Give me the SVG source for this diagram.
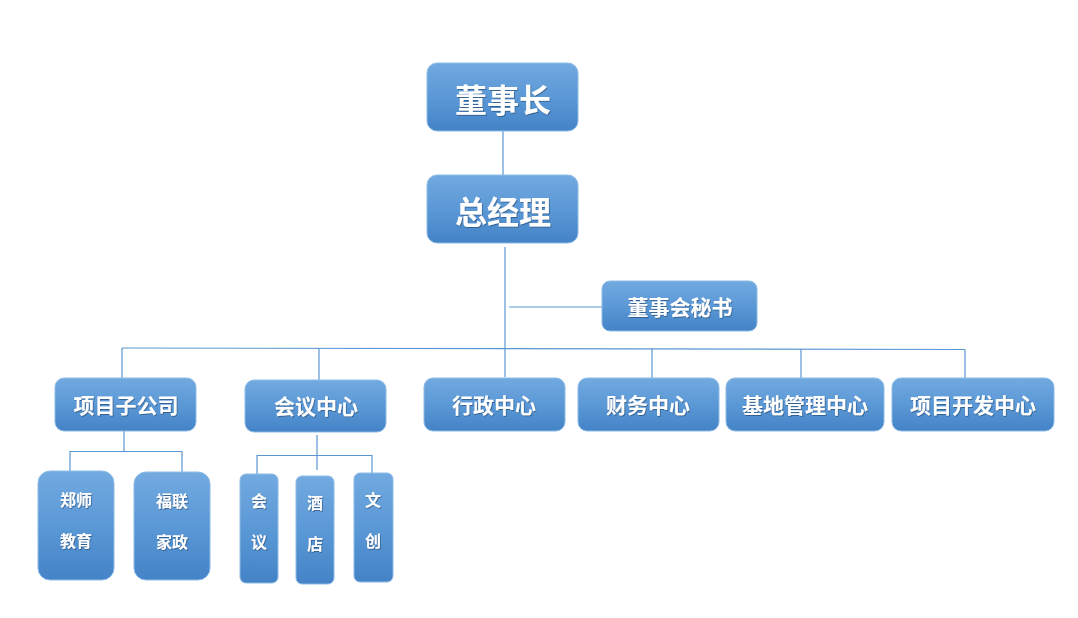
<svg xmlns="http://www.w3.org/2000/svg" width="1078" height="618" viewBox="0 0 1078 618">
<defs>
<linearGradient id="g" x1="0" y1="0" x2="0" y2="1">
<stop offset="0" stop-color="#72aae0"/>
<stop offset="0.5" stop-color="#5b98d6"/>
<stop offset="1" stop-color="#4383c6"/>
</linearGradient>
<filter id="ts" x="-10%" y="-10%" width="120%" height="130%">
<feDropShadow dx="0.8" dy="1" stdDeviation="0.6" flood-color="#1f3f66" flood-opacity="0.6"/>
</filter>
</defs>
<style>
rect{fill:url(#g);stroke:#8fbbe6;stroke-width:1}
text{fill:#ffffff;font-family:"Noto Sans CJK SC","Noto Sans CJK JP",sans-serif;font-weight:bold;text-anchor:middle;dominant-baseline:central;filter:url(#ts)}
.l{font-size:32px}
.m{font-size:21px}
.s{font-size:16px}
#connectors line,#connectors polyline{stroke:#5b97d3;stroke-width:1.2;fill:none}
</style>
<g id="connectors">
<line x1="503" y1="131" x2="503" y2="175"/>
<line x1="505" y1="247" x2="505" y2="377"/>
<line x1="509" y1="307" x2="602" y2="307"/>
<line x1="122" y1="348" x2="965" y2="349.5"/>
<line x1="122" y1="348" x2="122" y2="384"/>
<line x1="319" y1="348" x2="319" y2="380"/>
<line x1="652" y1="349" x2="652" y2="378"/>
<line x1="801" y1="349" x2="801" y2="378"/>
<line x1="965" y1="349.5" x2="965" y2="378"/>
<line x1="124" y1="431" x2="124" y2="451"/>
<polyline points="70,471 70,451.5 182,451.5 182,472"/>
<line x1="317" y1="435" x2="317" y2="470"/>
<polyline points="257,474 257,455.5 372,455.5 372,473"/>
</g>
<g id="n-chairman"><rect x="427" y="63" width="151" height="68" rx="10"/><text class="l" x="503" y="98">董事长</text></g>
<g id="n-gm"><rect x="427" y="175" width="151" height="68" rx="10"/><text class="l" x="503" y="210">总经理</text></g>
<g id="n-secretary"><rect x="602" y="281" width="155" height="50" rx="8"/><text class="m" x="680" y="306">董事会秘书</text></g>
<g id="n-project-sub"><rect x="55" y="378" width="141" height="53" rx="9"/><text class="m" x="126" y="404">项目子公司</text></g>
<g id="n-meeting-center"><rect x="245" y="380" width="141" height="52" rx="9"/><text class="m" x="316" y="405">会议中心</text></g>
<g id="n-admin"><rect x="424" y="378" width="141" height="53" rx="9"/><text class="m" x="494" y="404">行政中心</text></g>
<g id="n-finance"><rect x="578" y="378" width="141" height="53" rx="9"/><text class="m" x="648" y="404">财务中心</text></g>
<g id="n-base"><rect x="726" y="378" width="158" height="53" rx="9"/><text class="m" x="805" y="404">基地管理中心</text></g>
<g id="n-projdev"><rect x="892" y="378" width="162" height="53" rx="9"/><text class="m" x="973" y="404">项目开发中心</text></g>
<g id="n-zhengshi"><rect x="38" y="471" width="76" height="109" rx="12"/><text class="s" x="76" y="499">郑师</text><text class="s" x="76" y="540">教育</text></g>
<g id="n-fulian"><rect x="134" y="472" width="76" height="108" rx="12"/><text class="s" x="172" y="500">福联</text><text class="s" x="172" y="541">家政</text></g>
<g id="n-huiyi"><rect x="240" y="474" width="38" height="109" rx="6"/><text class="s" x="259" y="500">会</text><text class="s" x="259" y="541">议</text></g>
<g id="n-jiudian"><rect x="296" y="476" width="38" height="108" rx="6"/><text class="s" x="315" y="502">酒</text><text class="s" x="315" y="543">店</text></g>
<g id="n-wenchuang"><rect x="354" y="473" width="39" height="109" rx="6"/><text class="s" x="373" y="499">文</text><text class="s" x="373" y="540">创</text></g>
</svg>
